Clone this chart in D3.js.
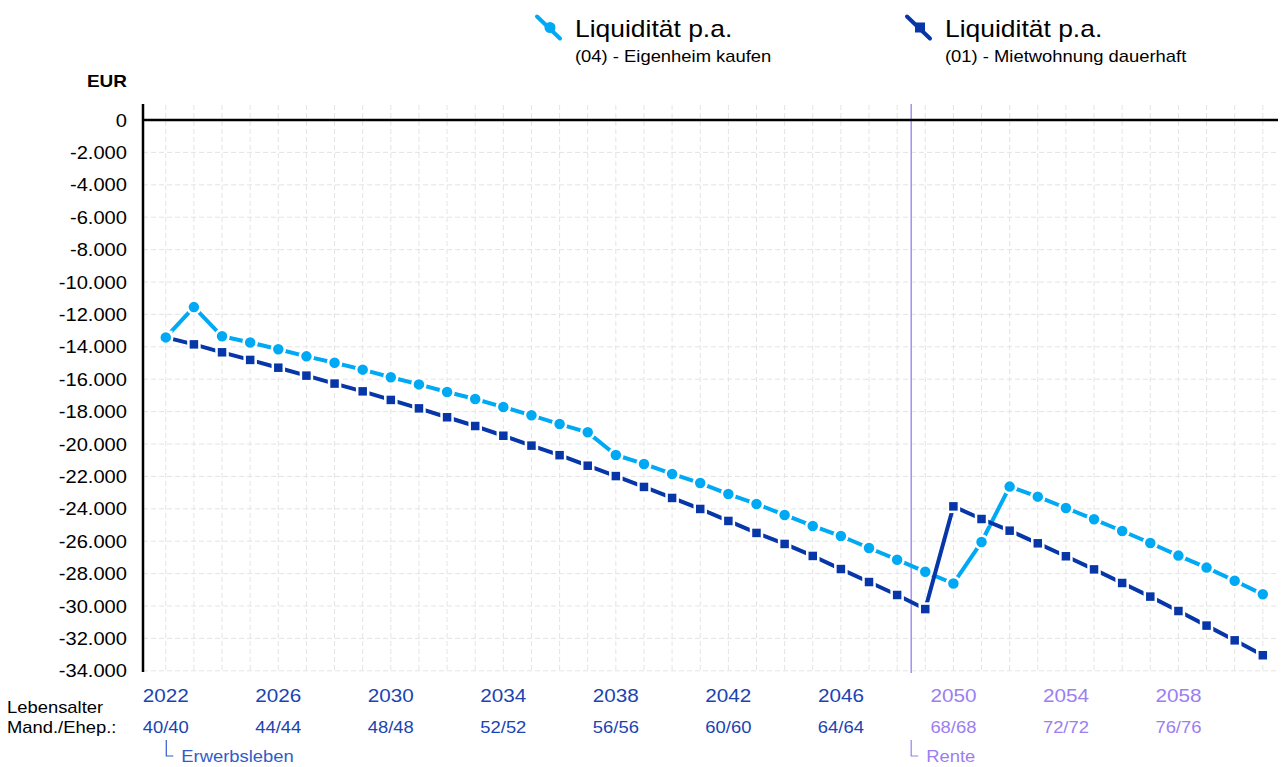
<!DOCTYPE html>
<html>
<head>
<meta charset="utf-8">
<script src="https://cdn.jsdelivr.net/npm/d3@7"></script>
<style>
  html, body { margin: 0; padding: 0; background: #fff; }
  svg { display: block; font-family: "Liberation Sans", Arial, sans-serif; }
</style>
</head>
<body>
<svg id="chart" width="1282" height="767"></svg>
<script>
// ---------- data ----------
const years = [2022,2023,2024,2025,2026,2027,2028,2029,2030,2031,2032,2033,2034,2035,2036,2037,2038,2039,2040,2041,
               2042,2043,2044,2045,2046,2047,2048,2049,2050,2051,2052,2053,2054,2055,2056,2057,2058,2059,2060,2061];
const eigenheim = [-13420,-11550,-13350,-13730,-14150,-14590,-14980,-15410,-15880,-16320,-16790,-17220,-17720,-18230,-18770,-19280,
                   -20680,-21230,-21850,-22410,-23090,-23700,-24380,-25060,-25680,-26420,-27140,-27890,-28610,-26050,-22630,-23250,
                   -23950,-24650,-25370,-26110,-26890,-27630,-28440,-29280];
const miete = [-13420,-13850,-14340,-14810,-15290,-15780,-16270,-16750,-17280,-17800,-18350,-18890,-19490,-20100,-20690,-21340,
               -21980,-22650,-23330,-24010,-24750,-25490,-26170,-26910,-27720,-28520,-29320,-30190,-23850,-24630,-25350,-26130,
               -26930,-27740,-28580,-29420,-30310,-31210,-32120,-33040];
const yTicks = [0,-2000,-4000,-6000,-8000,-10000,-12000,-14000,-16000,-18000,-20000,-22000,-24000,-26000,-28000,-30000,-32000,-34000];
const xTickYears = [2022,2026,2030,2034,2038,2042,2046,2050,2054,2058];
const xTickAges = ["40/40","44/44","48/48","52/52","56/56","60/60","64/64","68/68","72/72","76/76"];
const renteYear = 2048.5;
const seriesNames = ["Liquidität p.a.","Liquidität p.a."];
const seriesSubs = ["(04) - Eigenheim kaufen","(01) - Mietwohnung dauerhaft"];

// ---------- styles ----------
const C_LIGHT = "#00a9f4", C_DARK = "#0636a8";
const C_BLUE_TXT = "#1a44b2", C_PURPLE = "#9b7ef2";
const SX = 1.15;

const svg = d3.select("#chart");
const x = d3.scaleLinear().domain([2021.19, 2061.54]).range([143, 1278]);
const y = d3.scaleLinear().domain([-34000, 0]).range([670.8, 120]);
const de = d3.formatLocale({decimal: ",", thousands: ".", grouping: [3], currency: ["", " €"], minus: "-"});
const fmt = de.format(",.0f");

function txt(g, px, py, s, o) {
  o = o || {};
  return g.append("text")
    .attr("transform", `translate(${px},${py}) scale(${o.sx || SX},1)`)
    .attr("text-anchor", o.anchor || "start")
    .attr("font-size", o.size || 16)
    .attr("font-weight", o.weight || "normal")
    .attr("fill", o.fill || "#000")
    .text(s);
}

// ---------- grid ----------
const grid = svg.append("g");
grid.selectAll("line.hg").data(yTicks.filter(d => d !== 0)).join("line")
  .attr("x1", 143).attr("x2", 1278)
  .attr("y1", d => y(d)).attr("y2", d => y(d))
  .attr("stroke", "#e4e4e4").attr("stroke-width", 1).attr("stroke-dasharray", "5,3");
grid.selectAll("line.vg").data(years).join("line")
  .attr("x1", d => x(d)).attr("x2", d => x(d))
  .attr("y1", 105).attr("y2", 671)
  .attr("stroke", "#e4e4e4").attr("stroke-width", 1).attr("stroke-dasharray", "5,3");

// rente line
svg.append("line").attr("x1", x(renteYear)).attr("x2", x(renteYear))
  .attr("y1", 104).attr("y2", 673).attr("stroke", C_PURPLE).attr("stroke-width", 1.3);

// axes
svg.append("line").attr("x1", 143).attr("x2", 1278).attr("y1", y(0)).attr("y2", y(0))
  .attr("stroke", "#000").attr("stroke-width", 2.5);
svg.append("line").attr("x1", 143).attr("x2", 143).attr("y1", 104).attr("y2", 672)
  .attr("stroke", "#000").attr("stroke-width", 2.5);

// y tick labels
const yl = svg.append("g");
yTicks.forEach(t => txt(yl, 127, y(t) + 6.5, fmt(t), {anchor: "end", size: 17.5}));
txt(svg, 127, 87, "EUR", {anchor: "end", size: 16.5, weight: "bold"});

// x labels
const xl = svg.append("g");
xTickYears.forEach((yr, i) => {
  const col = yr > renteYear ? C_PURPLE : C_BLUE_TXT;
  txt(xl, x(yr), 702, String(yr), {anchor: "middle", size: 18, fill: col});
  txt(xl, x(yr), 733, xTickAges[i], {anchor: "middle", size: 16, fill: col});
});
txt(svg, 7, 713, "Lebensalter", {size: 16});
txt(svg, 7, 733, "Mand./Ehep.:", {size: 16});

// phase brackets
function bracket(xp, label, col) {
  svg.append("path").attr("d", `M${xp},740V756H${xp + 7}`)
    .attr("fill", "none").attr("stroke", col).attr("stroke-width", 1.2);
  txt(svg, xp + 15, 762, label, {size: 16, fill: col});
}
bracket(x(years[0]) + 0.5, "Erwerbsleben", "#2f5cc8");
bracket(x(renteYear), "Rente", C_PURPLE);

// ---------- series ----------
const line = d3.line().x((d, i) => x(years[i])).y(d => y(d));
svg.append("path").datum(eigenheim).attr("d", line)
  .attr("fill", "none").attr("stroke", C_LIGHT).attr("stroke-width", 4).attr("stroke-linejoin", "round");
svg.append("path").datum(miete).attr("d", line)
  .attr("fill", "none").attr("stroke", C_DARK).attr("stroke-width", 4).attr("stroke-linejoin", "round");

svg.append("g").selectAll("rect").data(miete).join("rect")
  .attr("x", (d, i) => x(years[i]) - 5.5).attr("y", d => y(d) - 5.5)
  .attr("width", 11).attr("height", 11)
  .attr("fill", C_DARK).attr("stroke", "#fff").attr("stroke-width", 2.5);
svg.append("g").selectAll("circle").data(eigenheim).join("circle")
  .attr("cx", (d, i) => x(years[i])).attr("cy", d => y(d)).attr("r", 6.5)
  .attr("fill", C_LIGHT).attr("stroke", "#fff").attr("stroke-width", 2.5);

// ---------- legend ----------
function legendItem(lx, idx, col, marker) {
  const g = svg.append("g");
  g.append("line").attr("x1", lx).attr("y1", 16.5).attr("x2", lx + 23).attr("y2", 38.5)
    .attr("stroke", col).attr("stroke-width", 4).attr("stroke-linecap", "round");
  const cx = lx + 13, cy = 27.5;
  if (marker === "circle") g.append("circle").attr("cx", cx).attr("cy", cy).attr("r", 5.5).attr("fill", col);
  else g.append("rect").attr("x", cx - 5).attr("y", cy - 5).attr("width", 10).attr("height", 10).attr("fill", col);
  txt(g, lx + 38, 37, seriesNames[idx], {size: 23});
  txt(g, lx + 38, 62, seriesSubs[idx], {size: 16});
}
legendItem(537, 0, C_LIGHT, "circle");
legendItem(907, 1, C_DARK, "rect");
</script>
</body>
</html>
